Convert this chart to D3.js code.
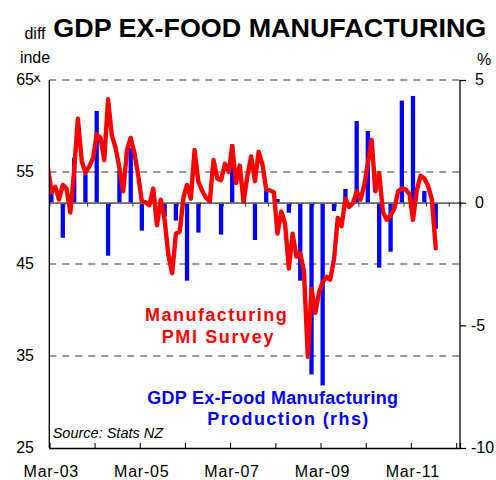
<!DOCTYPE html>
<html>
<head>
<meta charset="utf-8">
<script src="https://cdn.jsdelivr.net/npm/d3@7"></script>
<style>
  html, body { margin: 0; padding: 0; background: #fff; }
  svg { display: block; }
  text { font-family: "Liberation Sans", Arial, sans-serif; }
</style>
</head>
<body>
<svg id="chart" width="496" height="480"></svg>
<script>
// ---------------- DATA ----------------
// Manufacturing PMI (monthly, starting Feb-03), left axis (diffusion index)
const pmiStartYear = 2003, pmiStartMonth = 1; // Feb-03
const pmiValues = [
  55.5, // Feb-03
  52.8, 53.4, 52.0, 53.6, 53.2, 50.6, 55.2, 60.8, 56.2, 54.9,   // Mar-03 .. Dec-03
  55.6, 56.5, 59.1, 58.7, 56.3, 62.9, 59.0, 57.6, 55.4, 52.9, 57.4, 58.7, // 2004
  57.0, 54.5, 51.8, 51.7, 51.4, 53.2, 49.2, 52.0, 49.8, 46.0, 44.0, 48.3, // 2005
  48.5, 52.3, 53.6, 52.1, 57.4, 53.9, 53.0, 52.2, 51.8, 56.3, 54.3, 54.1, // 2006
  55.9, 55.0, 57.8, 53.8, 55.7, 51.8, 54.5, 56.7, 54.0, 57.2, 55.8, 53.1, // 2007
  53.0, 52.8, 48.3, 50.7, 49.4, 44.5, 48.3, 45.8, 46.2, 44.2, 34.9, 42.3, // 2008
  39.7, 42.0, 43.0, 43.6, 43.3, 45.5, 50.0, 49.1, 52.1, 51.2, 51.6, 52.9, // 2009
  52.0, 53.6, 56.0, 58.5, 52.9, 54.9, 50.7, 49.8, 50.3, 51.0, 52.9, 53.2, // 2010
  53.1, 52.6, 49.8, 53.0, 54.6, 54.3, 53.5, 52.0, 46.7                      // Jan-11 .. Sep-11
];
// GDP ex-food manufacturing production, % q/q (quarterly from Mar-03), right axis
const gdpStartYear = 2003, gdpStartMonth = 2; // Mar-03
const gdpValues = [
  0.45, -1.43, 1.83, 1.16,   // 2003
  3.74, -2.16, 1.33, 2.24,   // 2004
  -1.14, 0.05, -0.57, -0.73, // 2005
  -3.18, -1.22, 0.05, -1.30, // 2006
  2.38, 0.10, -1.52, 0.49,   // 2007
  0.15, -0.41, -3.18, -7.00, // 2008
  -7.45, -0.34, 0.56, 3.33,  // 2009
  2.92, -2.65, -2.00, 4.16,  // 2010
  4.35, 0.48, -1.07          // 2011
];
const leftTicks = [25, 35, 45, 55, 65];
const rightTicks = [-10, -5, 0, 5];
const gridLevels = [35, 45, 55, 65];
const xLabelYears = [2003, 2005, 2007, 2009, 2011];
const xTickYears = [2003, 2004, 2005, 2006, 2007, 2008, 2009, 2010, 2011, 2012];

const titleText = "GDP EX-FOOD MANUFACTURING";
const leftAxisTitle = ["diff", "inde", "x"];
const rightAxisTitle = "%";
const pmiLabel = ["Manufacturing", "PMI Survey"];
const gdpLabel = ["GDP Ex-Food Manufacturing", "Production (rhs)"];
const sourceText = "Source: Stats NZ";

// ---------------- LAYOUT ----------------
const plot = { left: 49.3, right: 460, top: 80, bottom: 448 };

const svg = d3.select("#chart");

const x = d3.scaleTime()
  .domain([new Date(2003, 2, 1), new Date(2012, 3, 1)])
  .range([plot.left, plot.right]);
const yL = d3.scaleLinear().domain([25, 65]).range([plot.bottom, plot.top]);
const yR = d3.scaleLinear().domain([-10, 5]).range([plot.bottom, plot.top]);

const pmi = pmiValues.map((v, i) => ({ date: new Date(pmiStartYear, pmiStartMonth + i, 18), v }));
const gdp = gdpValues.map((v, i) => ({ date: new Date(gdpStartYear, gdpStartMonth + 3 * i, 18), v }));

// clip paths
const defs = svg.append("defs");
defs.append("clipPath").attr("id", "plotclip").append("rect")
  .attr("x", plot.left).attr("y", plot.top - 10)
  .attr("width", plot.right - plot.left).attr("height", plot.bottom - plot.top + 20);
defs.append("clipPath").attr("id", "xclip").append("rect")
  .attr("x", 25).attr("y", 75.5).attr("width", 25).attr("height", 15);

// dashed gridlines
svg.append("g").selectAll("line").data(gridLevels).join("line")
  .attr("x1", plot.left).attr("x2", plot.right)
  .attr("y1", d => yL(d)).attr("y2", d => yL(d))
  .attr("stroke", "#7a7a7a").attr("stroke-width", 1.4)
  .attr("stroke-dasharray", "7,6");

// bars
const barW = 4.3;
svg.append("g").attr("clip-path", "url(#plotclip)")
  .selectAll("rect").data(gdp).join("rect")
  .attr("x", d => x(d.date) - barW / 2)
  .attr("width", barW)
  .attr("y", d => Math.min(yR(d.v), yR(0)))
  .attr("height", d => Math.abs(yR(d.v) - yR(0)))
  .attr("fill", "#0000ff");

// zero line axis (category axis crossing at 0) with half-yearly ticks
const zeroAxis = d3.axisBottom(x)
  .tickValues(d3.timeMonth.every(6).range(new Date(2003, 2, 1), new Date(2012, 3, 2)))
  .tickSize(4).tickFormat("");
const zg = svg.append("g").attr("transform", `translate(0,${yR(0)})`).call(zeroAxis);
zg.select(".domain").attr("stroke", "#6a6a6a").attr("stroke-width", 1.6);
zg.selectAll(".tick line").attr("stroke", "#333").attr("stroke-width", 1);

// PMI line
const line = d3.line().x(d => x(d.date)).y(d => yL(d.v)).curve(d3.curveLinear);
svg.append("path").datum(pmi)
  .attr("clip-path", "url(#plotclip)")
  .attr("d", line)
  .attr("fill", "none").attr("stroke", "#ff0000")
  .attr("stroke-width", 4.4).attr("stroke-linejoin", "round").attr("stroke-linecap", "round");

// axes lines
const axes = svg.append("g").attr("stroke", "#000").attr("stroke-width", 1.3);
axes.append("line").attr("x1", plot.left).attr("x2", plot.left).attr("y1", plot.top).attr("y2", plot.bottom);
axes.append("line").attr("x1", plot.right).attr("x2", plot.right).attr("y1", plot.top).attr("y2", plot.bottom + 1);

// bottom axis with inward yearly ticks
const bottomAxis = d3.axisBottom(x)
  .tickValues(xTickYears.map(y => new Date(y, 2, 1)))
  .tickSize(-5).tickFormat("");
const bg = svg.append("g").attr("transform", `translate(0,${plot.bottom})`).call(bottomAxis);
bg.select(".domain").attr("stroke", "#000").attr("stroke-width", 1.3);
bg.selectAll(".tick line").attr("stroke", "#000");

// x labels
const fmt = d3.timeFormat("%b-%y");
svg.append("g").selectAll("text").data(xLabelYears.map(y => new Date(y, 2, 1))).join("text")
  .attr("x", d => x(d) + 2).attr("y", 476.5)
  .attr("text-anchor", "middle")
  .attr("font-size", 16).attr("letter-spacing", 0.8)
  .text(d => fmt(d));

// left axis labels
svg.append("g").selectAll("text").data(leftTicks).join("text")
  .attr("x", 34).attr("y", d => yL(d)).attr("dy", "0.33em")
  .attr("text-anchor", "end").attr("font-size", 16)
  .text(d => d);

// right axis ticks + labels
const rightAxis = d3.axisRight(yR).tickValues(rightTicks).tickSize(6).tickFormat("");
const rg = svg.append("g").attr("transform", `translate(${plot.right},0)`).call(rightAxis);
rg.select(".domain").remove();
rg.selectAll(".tick line").attr("stroke", "#000").attr("stroke-width", 1.2);
svg.append("g").selectAll("text").data(rightTicks).join("text")
  .attr("x", d => d < 0 ? 471 : 475).attr("y", d => yR(d)).attr("dy", "0.33em")
  .attr("text-anchor", "start").attr("font-size", 16)
  .text(d => d);

// axis titles
svg.append("text").attr("x", 35).attr("y", 39).attr("text-anchor", "middle")
  .attr("font-size", 16).text(leftAxisTitle[0]);
svg.append("text").attr("x", 35).attr("y", 62.5).attr("text-anchor", "middle")
  .attr("font-size", 16).text(leftAxisTitle[1]);
svg.append("text").attr("x", 37).attr("y", 82).attr("text-anchor", "middle")
  .attr("clip-path", "url(#xclip)")
  .attr("font-size", 15).text(leftAxisTitle[2]);
svg.append("text").attr("x", 477).attr("y", 65).attr("font-size", 16).text(rightAxisTitle);

// title
svg.append("text").attr("x", 53.3).attr("y", 36.5)
  .attr("font-size", 26).attr("font-weight", "bold")
  .attr("textLength", 433).attr("lengthAdjust", "spacingAndGlyphs")
  .text(titleText);

// series labels
const labels = [
  { t: pmiLabel[0], x: 145, y: 321, w: 141.7, c: "#ff0000" },
  { t: pmiLabel[1], x: 161.7, y: 343.3, w: 111.7, c: "#ff0000" },
  { t: gdpLabel[0], x: 147.3, y: 404, w: 250.7, c: "#0000ff" },
  { t: gdpLabel[1], x: 207.3, y: 424.5, w: 161, c: "#0000ff" }
];
svg.append("g").selectAll("text").data(labels).join("text")
  .attr("x", d => d.x).attr("y", d => d.y)
  .attr("font-size", 18).attr("font-weight", "bold")
  .attr("fill", d => d.c)
  .attr("textLength", d => d.w).attr("lengthAdjust", "spacing")
  .text(d => d.t);

// source
svg.append("text").attr("x", 52.7).attr("y", 438)
  .attr("font-size", 14.5).attr("font-style", "italic")
  .text(sourceText);
</script>
</body>
</html>
